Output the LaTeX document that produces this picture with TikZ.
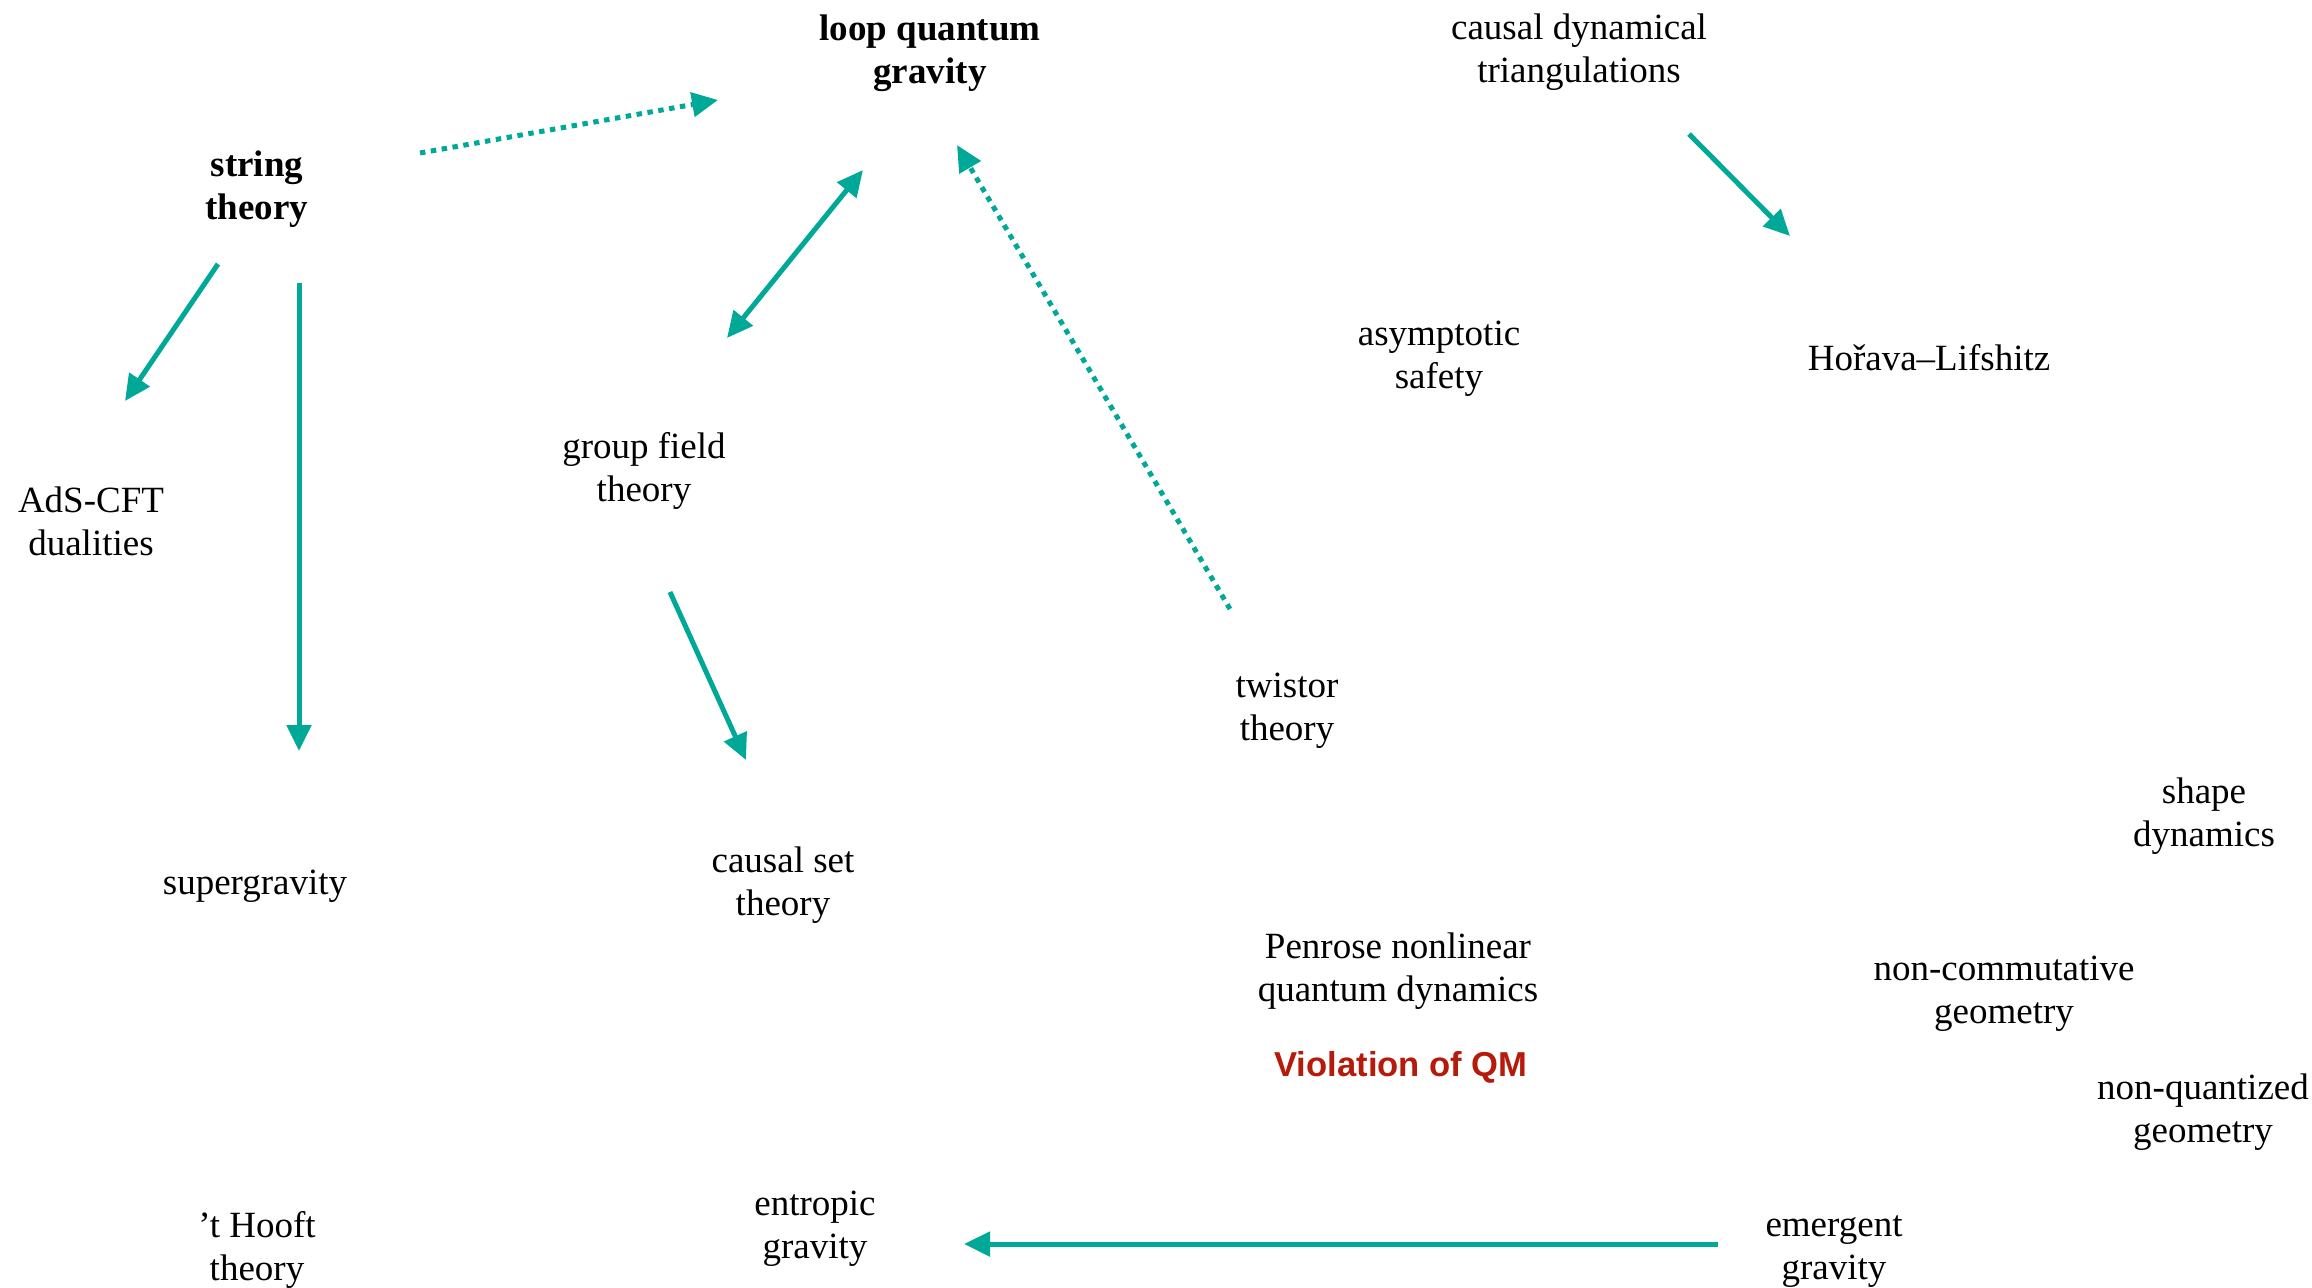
\documentclass[tikz,border=0pt]{standalone}
\usepackage{fontspec}
\setmainfont{Liberation Serif}
\setsansfont{Liberation Sans}
\usetikzlibrary{arrows.meta}
\definecolor{teal}{RGB}{0,168,152}
\definecolor{warnred}{RGB}{182,26,10}
\begin{document}
\begin{tikzpicture}[x=0.5pt,y=-0.5pt,
  lbl/.style={inner sep=0pt,align=center,font=\fontsize{18.5}{21.5}\selectfont},
  key/.style={lbl,font=\fontsize{18.5}{21.5}\selectfont\bfseries},
  link/.style={draw=teal,line width=2.5pt,-{Triangle[length=13pt,width=12pt]}},
  twoway/.style={link,{Triangle[length=13pt,width=12pt]}-{Triangle[length=13pt,width=12pt]}},
  weak/.style={link,dash pattern=on 2.7pt off 2.8pt}]
\useasboundingbox (0,0) rectangle (2312,1287);

% theory labels
\node[key] (lqg)      at (930,53)   {loop quantum\\gravity};
\node[lbl] (cdt)      at (1579,52)  {causal dynamical\\triangulations};
\node[key] (string)   at (257,189)  {string\\theory};
\node[lbl] (asym)     at (1439,359) {asymptotic\\safety};
\node[lbl] (horava)   at (1929,358) {Hořava--Lifshitz};
\node[lbl] (ads)      at (91,521)   {AdS-CFT\\dualities};
\node[lbl] (gft)      at (644,471)  {group field\\theory};
\node[lbl] (twistor)  at (1287,711) {twistor\\theory};
\node[lbl] (shape)    at (2204,816) {shape\\dynamics};
\node[lbl] (sugra)    at (255,886)  {supergravity};
\node[lbl] (cset)     at (783,885)  {causal set\\theory};
\node[lbl] (penrose)  at (1398,971) {Penrose nonlinear\\quantum dynamics};
\node[lbl] (ncg)      at (2004,994) {non-commutative\\geometry};
\node[inner sep=0pt,text=warnred,font=\fontsize{17.3}{20}\selectfont\sffamily\bfseries]
                (viol) at (1401,1067) {Violation of QM};
\node[lbl] (nqg)      at (2203,1112) {non-quantized\\geometry};
\node[lbl] (thooft)   at (257,1250) {’t Hooft\\theory};
\node[lbl] (entropic) at (815,1229) {entropic\\gravity};
\node[lbl] (emergent) at (1834,1252) {emergent\\gravity};

% connector end points
\coordinate (string-lqg)  at (420,153);
\coordinate (lqg-string)  at (718,100);
\coordinate (lqg-gft)     at (863,170);
\coordinate (gft-lqg)     at (727,338);
\coordinate (twistor-lqg) at (1230,609);
\coordinate (lqg-twistor) at (957,145);
\coordinate (string-ads)  at (218,264);
\coordinate (ads-string)  at (125,401);
\coordinate (string-sugra) at (299,283);
\coordinate (sugra-string) at (299,751);
\coordinate (gft-cset)    at (670,592);
\coordinate (cset-gft)    at (746,760);
\coordinate (cdt-horava)  at (1689,134);
\coordinate (horava-cdt)  at (1790,236);
\coordinate (emergent-entropic) at (1718,1244);
\coordinate (entropic-emergent) at (964,1244);

% connectors
\draw[weak]   (string-lqg) -- (lqg-string);
\draw[twoway] (lqg-gft) -- (gft-lqg);
\draw[weak]   (twistor-lqg) -- (lqg-twistor);
\draw[link]   (string-ads) -- (ads-string);
\draw[link]   (string-sugra) -- (sugra-string);
\draw[link]   (gft-cset) -- (cset-gft);
\draw[link]   (cdt-horava) -- (horava-cdt);
\draw[link]   (emergent-entropic) -- (entropic-emergent);
\end{tikzpicture}
\end{document}
